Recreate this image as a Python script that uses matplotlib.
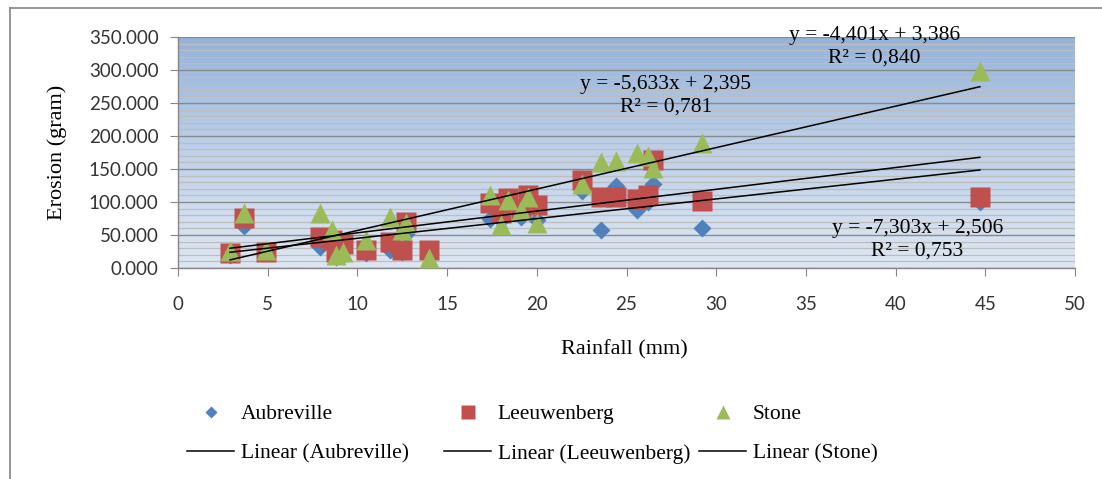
#!/usr/bin/env python3

import numpy as np
import matplotlib
matplotlib.use("Agg")
import matplotlib.pyplot as plt
from matplotlib.colors import LinearSegmentedColormap
from matplotlib.lines import Line2D
from matplotlib.ticker import MultipleLocator, FormatStrFormatter

# rainfall events (mm) and erosion (gram) per plot
rain = [2.9, 3.7, 4.9, 7.9, 8.6, 8.8, 9.2, 10.5, 11.8, 12.5, 12.7, 14.0,
        17.4, 18.0, 18.4, 19.1, 19.5, 20.0, 22.5, 23.6, 24.4, 25.6, 26.2,
        26.5, 29.2, 44.7]
aubreville = [20, 63, 22, 32, 40, 17, 33, 22, 28, 25, 52, 22,
              75, 72, 95, 78, 100, 73, 117, 58, 125, 88, 100,
              128, 60, 100]
leeuwenberg = [22, 76, 25, 47, 42, 25, 37, 27, 40, 28, 70, 27,
               98, 83, 106, 90, 110, 95, 133, 108, 108, 105, 110,
               164, 102, 107]
stone = [26, 84, 27, 83, 58, 20, 25, 42, 78, 58, 68, 15,
         110, 65, 103, 88, 108, 68, 127, 160, 162, 174, 169,
         151, 189, 298]

series_names = ["Aubreville", "Leeuwenberg", "Stone"]
series_values = [aubreville, leeuwenberg, stone]
series_colors = ["#4F81BD", "#C0504D", "#9BBB59"]
series_markers = ["D", "s", "^"]
series_msize = [9, 14, 14.5]

# linear trend lines as drawn in the chart (slope, intercept)
trend_slope = [2.983, 3.296, 6.279]
trend_intercept = [15.17, 20.37, -5.96]
trend_labels = ["y = -7,303x + 2,506\nR² = 0,753",
                "y = -5,633x + 2,395\nR² = 0,781",
                "y = -4,401x + 3,386\nR² = 0,840"]
label_pos = [(41.2, 42.4), (27.2, 261.4), (38.8, 335.6)]

serif = "Liberation Serif"
sans = "Lato"

fig = plt.figure(figsize=(11.02, 4.79), dpi=100)
ax = fig.add_axes([178 / 1102, 1 - 268 / 479, 897 / 1102, 231 / 479])

# gradient background of the plot area
grad = np.linspace(0, 1, 256).reshape(-1, 1)
cmap = LinearSegmentedColormap.from_list("bg", ["#DDE7F3", "#BFD1E9", "#94B3DB"])
ax.imshow(grad, extent=[0, 50, 0, 350], origin="lower", aspect="auto",
          cmap=cmap, zorder=0)

ax.set_xlim(0, 50)
ax.set_ylim(0, 350)
ax.xaxis.set_major_locator(MultipleLocator(5))
ax.yaxis.set_major_locator(MultipleLocator(50))
ax.yaxis.set_minor_locator(MultipleLocator(10))
ax.yaxis.set_major_formatter(FormatStrFormatter("%.3f"))
ax.grid(axis="y", which="minor", color="#BDBDBD", lw=0.9)
ax.grid(axis="y", which="major", color="#8A8A8A", lw=1.0)
ax.set_axisbelow(True)

for s in ["top", "right"]:
    ax.spines[s].set_visible(False)
for s in ["left", "bottom"]:
    ax.spines[s].set_color("#868686")
    ax.spines[s].set_linewidth(1.0)
ax.tick_params(which="major", length=6, color="#868686", labelsize=13.5)
ax.tick_params(which="minor", length=0)
ax.tick_params(axis="y", pad=8)
ax.tick_params(axis="x", pad=14)
for lab in ax.get_xticklabels() + ax.get_yticklabels():
    lab.set_family(sans)
    lab.set_color("#333333")

for name, vals, col, mk, ms in zip(series_names, series_values, series_colors,
                                   series_markers, series_msize):
    ax.plot(rain, vals, ls="none", marker=mk, ms=ms, color=col, mec="none",
            zorder=3)

xfit = np.array([min(rain), max(rain)])
for a, b in zip(trend_slope, trend_intercept):
    ax.plot(xfit, a * xfit + b, color="black", lw=1.1, zorder=4)

for txt, (tx, ty) in zip(trend_labels, label_pos):
    ax.text(tx, ty, txt, ha="center", va="center", multialignment="center",
            fontsize=15.5, family=serif, linespacing=1.25, zorder=5, clip_on=False)

ax.set_xlabel("Rainfall (mm)", fontsize=16, family=serif)
ax.set_ylabel("Erosion (gram)", fontsize=16, family=serif)
ax.xaxis.label.set_va("center")
ax.yaxis.label.set_va("center")
ax.xaxis.set_label_coords(0.498, -0.355)
ax.yaxis.set_label_coords(-0.135, 0.5)

# legend: one small legend per series, side by side like the original
leg_x = [187 / 1102, 444 / 1102, 699 / 1102]
legend_ms = [6, 10, 10]
for name, col, mk, ms, lx in zip(series_names, series_colors, series_markers,
                                 legend_ms, leg_x):
    handles = [Line2D([], [], ls="none", marker=mk, ms=ms, color=col, mec="none"),
               Line2D([], [], color="black", lw=1.1)]
    labels = [name, "Linear (%s)" % name]
    fig.legend(handles, labels, loc="upper left", bbox_to_anchor=(lx, 1 - 404 / 479),
               frameon=False, borderpad=0, borderaxespad=0, handlelength=2.2,
               handletextpad=0.3, labelspacing=0.9,
               prop={"family": serif, "size": 15.5})

# chart frame (left and top edges visible)
fig.add_artist(Line2D([9.5 / 1102, 9.5 / 1102], [0, 1 - 8 / 479],
                      color="#8C8C8C", lw=1.3))
fig.add_artist(Line2D([9.5 / 1102, 1], [1 - 8 / 479, 1 - 8 / 479],
                      color="#8C8C8C", lw=1.3))

fig.savefig("out.png", dpi=100)
